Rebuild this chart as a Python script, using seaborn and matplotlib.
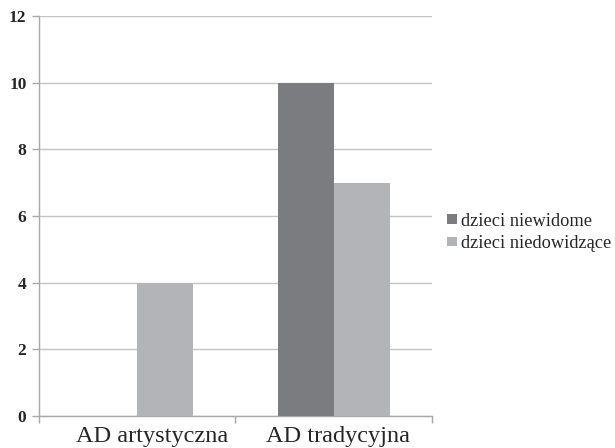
import matplotlib
matplotlib.use("Agg")
import matplotlib.pyplot as plt
import matplotlib.transforms as mtransforms
import seaborn as sns
import pandas as pd

categories = ["AD artystyczna", "AD tradycyjna"]
series_names = ["dzieci niewidome", "dzieci niedowidzące"]
niewidome = [0, 10]
niedowidzace = [4, 7]
y_ticks = [0, 2, 4, 6, 8, 10, 12]

sns.set_theme(style="white")
plt.rcParams["font.family"] = ["Liberation Serif", "DejaVu Serif"]

df = pd.DataFrame({
    "kategoria": categories * 2,
    "grupa": [series_names[0]] * len(categories) + [series_names[1]] * len(categories),
    "wartosc": niewidome + niedowidzace,
})

fig = plt.figure(figsize=(6.15, 4.48), dpi=100)
ax = fig.add_axes([0.0634, 0.0714, 0.639, 0.893])

palette = {series_names[0]: "#7b7c80", series_names[1]: "#b3b4b8"}
sns.barplot(data=df, x="kategoria", y="wartosc", hue="grupa", order=categories,
            hue_order=series_names, palette=palette, width=0.57, saturation=1,
            edgecolor="none", linewidth=0, ax=ax, zorder=3)

ax.set_xlim(-0.5, len(categories) - 0.5)
ax.set_ylim(0, 12)
ax.set_yticks(y_ticks)
ax.set_yticklabels([str(t) for t in y_ticks], fontweight="bold", fontsize=12.5)
ax.yaxis.grid(True, color="#c4c4c4", linewidth=1.0, zorder=0)
ax.xaxis.grid(False)
ax.set_axisbelow(True)

ax.set_xlabel("")
ax.set_ylabel("")
ax.tick_params(axis="x", length=0, labelsize=17.5, pad=7)
ax.tick_params(axis="y", length=5, color="#a8a8a8", width=1, pad=4, left=True)
ax.set_xticks([i - 0.5 for i in range(len(categories) + 1)], minor=True)
ax.tick_params(axis="x", which="minor", length=5, color="#a8a8a8", width=1, bottom=True)

# nudge the category labels slightly to the right
for lbl, dx in zip(ax.get_xticklabels(), [15, 4]):
    lbl.set_transform(lbl.get_transform() + mtransforms.ScaledTranslation(dx / 100, 0, fig.dpi_scale_trans))

for side in ["top", "right"]:
    ax.spines[side].set_visible(False)
for side in ["left", "bottom"]:
    ax.spines[side].set_color("#a8a8a8")
    ax.spines[side].set_linewidth(1)

handles, labels = ax.get_legend_handles_labels()
ax.legend_.remove()
fig.legend(handles, labels, loc="center left", bbox_to_anchor=(0.727, 0.481),
           frameon=False, fontsize=13.2, handlelength=0.55, handleheight=0.45,
           handletextpad=0.2, labelspacing=0.28, borderpad=0, borderaxespad=0)

fig.savefig("out.png", dpi=100)
